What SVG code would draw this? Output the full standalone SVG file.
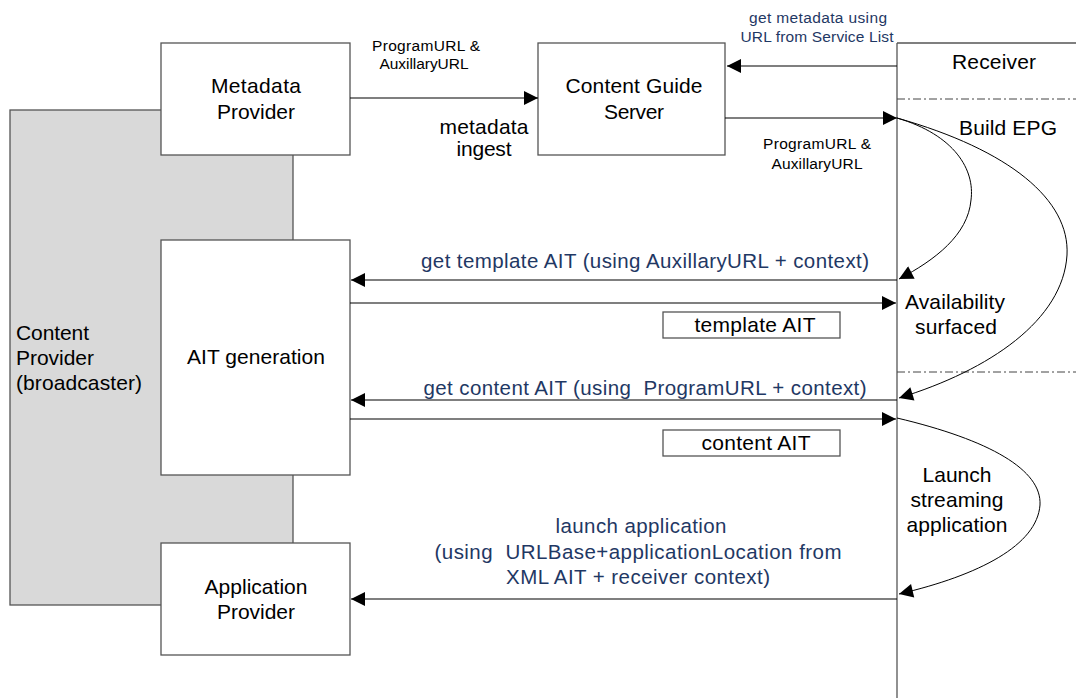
<svg xmlns="http://www.w3.org/2000/svg" width="1076" height="698" viewBox="0 0 1076 698">
<style>
.box{fill:#fff;stroke:#555;stroke-width:1.3}
.t{font-family:"Liberation Sans",Arial,sans-serif;font-size:21px;fill:#000}
.s{font-family:"Liberation Sans",Arial,sans-serif;font-size:15.5px;fill:#000}
.b{font-family:"Liberation Sans",Arial,sans-serif;font-size:20.5px;fill:#1F3864}
.bs{font-family:"Liberation Sans",Arial,sans-serif;font-size:15.5px;fill:#1F3864}
.ln{stroke:#000;stroke-width:1.2;fill:none}
.cv{stroke:#000;stroke-width:1;fill:none}
.dd{stroke:#444;stroke-width:1;stroke-dasharray:8,3,2,3;fill:none}
</style>
<defs>
<marker id="ah" viewBox="0 0 10 10" refX="10" refY="5" markerWidth="20" markerHeight="14" markerUnits="userSpaceOnUse" orient="auto">
<path d="M0,0 L10,5 L0,10 z" fill="#000"/>
</marker>
</defs>
<rect width="1076" height="698" fill="#fff"/>
<g id="content-provider">
<rect x="10" y="110" width="283" height="495" fill="#d9d9d9" stroke="#555" stroke-width="1.3"/>
<text class="t" x="16" y="340" textLength="73">Content</text>
<text class="t" x="16" y="365" textLength="78">Provider</text>
<text class="t" x="16" y="390" textLength="126">(broadcaster)</text>
</g>
<g id="metadata-provider">
<rect class="box" x="161" y="43" width="189" height="112"/>
<text class="t" x="256" y="93" text-anchor="middle" textLength="90">Metadata</text>
<text class="t" x="256" y="119" text-anchor="middle" textLength="78">Provider</text>
</g>
<g id="ait-generation">
<rect class="box" x="161" y="240" width="189" height="235"/>
<text class="t" x="256" y="364" text-anchor="middle" textLength="138">AIT generation</text>
</g>
<g id="application-provider">
<rect class="box" x="161" y="543" width="189" height="112"/>
<text class="t" x="256" y="594" text-anchor="middle" textLength="103">Application</text>
<text class="t" x="256" y="619" text-anchor="middle" textLength="78">Provider</text>
</g>
<g id="content-guide-server">
<rect class="box" x="538" y="43" width="187" height="112"/>
<text class="t" x="634" y="93" text-anchor="middle" textLength="137">Content Guide</text>
<text class="t" x="634" y="119" text-anchor="middle" textLength="60">Server</text>
</g>
<g id="receiver">
<line x1="897" y1="43" x2="1076" y2="43" stroke="#555" stroke-width="1.3"/>
<line x1="897" y1="43" x2="897" y2="698" stroke="#555" stroke-width="1.3"/>
<line class="dd" x1="897" y1="99" x2="1076" y2="99"/>
<line class="dd" x1="897" y1="372" x2="1076" y2="372"/>
<text class="t" x="994" y="69" text-anchor="middle" textLength="84">Receiver</text>
<text class="t" x="1008" y="135" text-anchor="middle" textLength="98">Build EPG</text>
<text class="t" x="955" y="309" text-anchor="middle" textLength="100">Availability</text>
<text class="t" x="956" y="334" text-anchor="middle" textLength="82">surfaced</text>
<text class="t" x="957" y="482" text-anchor="middle" textLength="69">Launch</text>
<text class="t" x="957" y="507" text-anchor="middle" textLength="93">streaming</text>
<text class="t" x="957" y="532" text-anchor="middle" textLength="101">application</text>
</g>
<g id="template-ait">
<rect class="box" x="663" y="312" width="177" height="26" stroke="#000"/>
<text class="t" x="755" y="332" text-anchor="middle" textLength="121">template AIT</text>
</g>
<g id="content-ait">
<rect class="box" x="663" y="430" width="177" height="26" stroke="#000"/>
<text class="t" x="756" y="450" text-anchor="middle" textLength="109">content AIT</text>
</g>
<g id="connectors">
<line class="ln" x1="350" y1="98" x2="538" y2="98" marker-end="url(#ah)"/>
<line class="ln" x1="897" y1="66" x2="727" y2="66" marker-end="url(#ah)"/>
<line class="ln" x1="725" y1="118" x2="897" y2="118" marker-end="url(#ah)"/>
<line class="ln" x1="897" y1="280" x2="351" y2="280" marker-end="url(#ah)"/>
<line class="ln" x1="350" y1="303" x2="896" y2="303" marker-end="url(#ah)"/>
<line class="ln" x1="897" y1="400" x2="351" y2="400" marker-end="url(#ah)"/>
<line class="ln" x1="350" y1="419" x2="896" y2="419" marker-end="url(#ah)"/>
<line class="ln" x1="897" y1="599" x2="351" y2="599" marker-end="url(#ah)"/>
<path class="cv" d="M897,118 C955,135 975,170 971,200 C968,235 935,260 899,279" marker-end="url(#ah)"/>
<path class="cv" d="M897,118 C1010,150 1070,200 1067,255 C1063,320 990,370 899,398" marker-end="url(#ah)"/>
<path class="cv" d="M897,418 C990,440 1042,470 1040,505 C1037,545 980,575 899,594" marker-end="url(#ah)"/>
<text class="s" x="426" y="51" text-anchor="middle" textLength="108">ProgramURL &amp;</text>
<text class="s" x="424" y="69" text-anchor="middle" textLength="89">AuxillaryURL</text>
<text class="t" x="484" y="134" text-anchor="middle" textLength="89">metadata</text>
<text class="t" x="484" y="156" text-anchor="middle" textLength="55">ingest</text>
<text class="bs" x="818" y="23" text-anchor="middle" textLength="138">get metadata using</text>
<text class="bs" x="817" y="42" text-anchor="middle" textLength="153">URL from Service List</text>
<text class="s" x="817" y="149" text-anchor="middle" textLength="108">ProgramURL &amp;</text>
<text class="s" x="817" y="169" text-anchor="middle" textLength="91">AuxillaryURL</text>
<text class="b" x="645" y="268" text-anchor="middle" textLength="448">get template AIT (using AuxillaryURL + context)</text>
<text class="b" x="645" y="395" text-anchor="middle" textLength="443" xml:space="preserve">get content AIT (using  ProgramURL + context)</text>
<text class="b" x="641" y="533" text-anchor="middle" textLength="171">launch application</text>
<text class="b" x="638" y="559" text-anchor="middle" textLength="407" xml:space="preserve">(using  URLBase+applicationLocation from</text>
<text class="b" x="638" y="584" text-anchor="middle" textLength="264">XML AIT + receiver context)</text>
</g>
</svg>
